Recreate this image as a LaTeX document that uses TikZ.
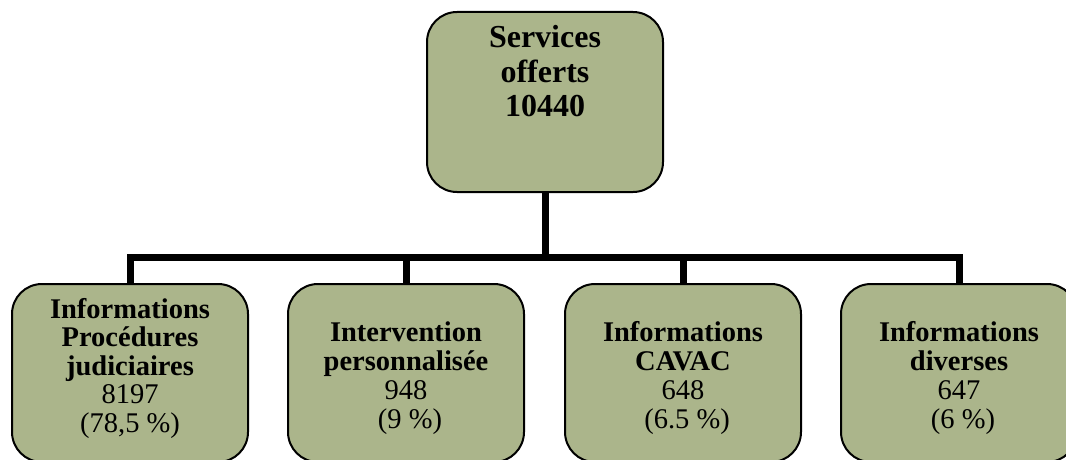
\documentclass[tikz,border=0pt]{standalone}
\usepackage{fontspec}
\setmainfont{Liberation Serif}
\definecolor{boxfill}{RGB}{171,181,139}
\tikzset{
  orgbox/.style={draw=black, line width=2pt, fill=boxfill, rounded corners=30pt,
    minimum width=236pt, inner sep=0pt},
  conn/.style={draw=black, line width=7pt, line join=miter},
  tb/.style={anchor=base, inner sep=0pt, font=\fontsize{32}{34}\selectfont\bfseries},
  lb/.style={anchor=base, inner sep=0pt, font=\fontsize{28.5}{29}\selectfont\bfseries},
  lr/.style={anchor=base, inner sep=0pt, font=\fontsize{28.5}{29}\selectfont},
}
\begin{document}
\begin{tikzpicture}[x=1pt, y=-1pt]
\useasboundingbox (0,0) rectangle (1066,460);
\clip (0,0) rectangle (1066,460);
% boxes
\node[orgbox, minimum height=180pt] (top) at (545,102) {};
\node[orgbox, minimum height=178pt] (b1) at (130,373) {};
\node[orgbox, minimum height=178pt] (b2) at (406,373) {};
\node[orgbox, minimum height=178pt] (b3) at (683,373) {};
\node[orgbox, minimum height=178pt] (b4) at (959,373) {};
% connectors
\coordinate (hub) at (545,257);
\draw[conn] (top.south) -- (hub);
\draw[conn] (b1.north) -- (b1.north |- hub) -- (b4.north |- hub) -- (b4.north);
\draw[conn] (b2.north |- hub) -- (b2.north);
\draw[conn] (b3.north |- hub) -- (b3.north);
% top text
\node[tb] (t1) at (545,48) {Services};
\node[tb] (t2) at (545,82.5) {offerts};
\node[tb] (t3) at (545,117) {10440};
% box 1
\node[lb] (a1) at (130,318) {Informations};
\node[lb] (a2) at (130,346.5) {Procédures};
\node[lb] (a3) at (130,375) {judiciaires};
\node[lr] (a4) at (130,403.5) {8197};
\node[lr] (a5) at (130,432) {(78,5 \%)};
% box 2
\node[lb] (c1) at (406,341) {Intervention};
\node[lb] (c2) at (406,370) {personnalisée};
\node[lr] (c3) at (406,399) {948};
\node[lr] (c4) at (410,428) {(9 \%)};
% box 3
\node[lb] (d1) at (683,341) {Informations};
\node[lb] (d2) at (683,370) {CAVAC};
\node[lr] (d3) at (683,399) {648};
\node[lr] (d4) at (687,428) {(6.5 \%)};
% box 4
\node[lb] (e1) at (959,341) {Informations};
\node[lb] (e2) at (959,370) {diverses};
\node[lr] (e3) at (959,399) {647};
\node[lr] (e4) at (963,428) {(6 \%)};
\end{tikzpicture}
\end{document}
